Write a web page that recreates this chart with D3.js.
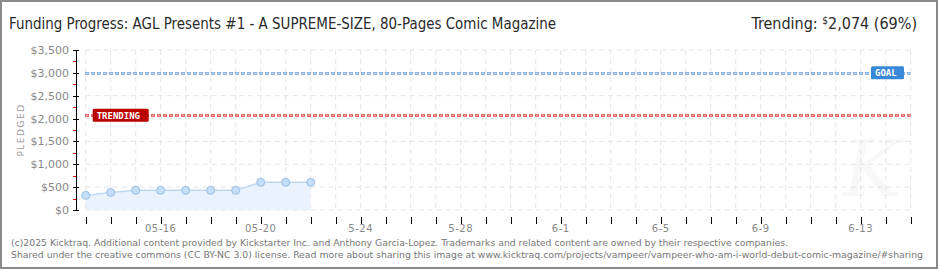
<!DOCTYPE html>
<html>
<head>
<meta charset="utf-8">
<script src="https://cdn.jsdelivr.net/npm/d3@7/dist/d3.min.js"></script>
<style>
  body { margin: 0; background: #fff; }
  svg { display: block; }
  .tick-label { font-family: "DejaVu Sans", sans-serif; font-size: 10px; fill: #888; }
  .title { font-family: "Liberation Sans Narrow", "DejaVu Sans Condensed", sans-serif; fill: #2a2a2a; }
  .footer { font-family: "DejaVu Sans Condensed", "DejaVu Sans", sans-serif; font-size: 9.5px; fill: #777; }
</style>
</head>
<body>
<div id="chart"></div>
<script>
// data
const dates = ["2025-05-13", "2025-05-14", "2025-05-15", "2025-05-16", "2025-05-17",
  "2025-05-18", "2025-05-19", "2025-05-20", "2025-05-21", "2025-05-22"];
const pledged = [320, 385, 430, 430, 430, 430, 430, 605, 605, 605];
const goal = 3000;
const trending = 2074;
const yTicks = [0, 500, 1000, 1500, 2000, 2500, 3000, 3500];
const xLabelDates = ["2025-05-16", "2025-05-20", "2025-05-24", "2025-05-28",
  "2025-06-01", "2025-06-05", "2025-06-09", "2025-06-13"];
const xLabels = ["05-16", "05-20", "5-24", "5-28", "6-1", "6-5", "6-9", "6-13"];
const dateRange = ["2025-05-13", "2025-06-15"];

const parse = d3.utcParse("%Y-%m-%d");
const points = dates.map((d, i) => ({ date: parse(d), value: pledged[i] }));

const W = 940, H = 270;
const svg = d3.select("#chart").append("svg").attr("width", W).attr("height", H);

// frame
svg.append("rect").attr("x", 1).attr("y", 1).attr("width", 936).attr("height", 267)
  .attr("fill", "#fff").attr("stroke", "#8a8a8a").attr("stroke-width", 2);

// scales
const x = d3.scaleUtc().domain(dateRange.map(parse)).range([85.7, 910.7]);
const y = d3.scaleLinear().domain([0, 3500]).range([210, 50]);
const allDays = d3.utcDay.range(parse(dateRange[0]), d3.utcDay.offset(parse(dateRange[1]), 1));

// watermark
svg.append("text").attr("x", 872).attr("y", 196).attr("text-anchor", "middle")
  .attr("font-family", "DejaVu Serif, serif").attr("font-style", "italic")
  .attr("font-size", 78).attr("fill", "#f8f8f8").text("K");

// grid
const grid = svg.append("g").attr("stroke", "#e4e4e4").attr("stroke-dasharray", "5,4");
grid.selectAll("line.v").data(allDays).join("line")
  .attr("x1", (d) => x(d)).attr("x2", (d) => x(d)).attr("y1", 50).attr("y2", 210);
grid.selectAll("line.h").data(yTicks).join("line")
  .attr("x1", 85.7).attr("x2", 910.7).attr("y1", (d) => y(d)).attr("y2", (d) => y(d));

// area + line
svg.append("path").datum(points)
  .attr("fill", "#eaf3fd")
  .attr("d", d3.area().x((d) => x(d.date)).y0(y(0)).y1((d) => y(d.value)));
svg.append("path").datum(points)
  .attr("fill", "none").attr("stroke", "#bcd8f4").attr("stroke-width", 1.5)
  .attr("d", d3.line().x((d) => x(d.date)).y((d) => y(d.value)));

// dotted reference lines
function refLine(value, dark, light) {
  const yy = Math.round(y(value)) + 0.5;
  svg.append("line").attr("x1", 85).attr("x2", 910.7).attr("y1", yy).attr("y2", yy)
    .attr("stroke", dark).attr("stroke-width", 3).attr("stroke-dasharray", "4,2");
  svg.append("line").attr("x1", 86).attr("x2", 910.7).attr("y1", yy).attr("y2", yy)
    .attr("stroke", light).attr("stroke-width", 1).attr("stroke-dasharray", "2,4");
}
refLine(goal, "#8fb4e0", "#c4d8f0");
refLine(trending, "#df6a6a", "#f0b0b0");

// labels on lines
function tag(label, x0, value, w, fill) {
  const yy = y(value);
  svg.append("rect").attr("x", x0).attr("y", yy - 6.5).attr("width", w).attr("height", 13)
    .attr("rx", 1.5).attr("fill", fill);
  svg.append("text").attr("x", x0 + 4).attr("y", yy + 3.5)
    .attr("font-family", "DejaVu Sans Mono, monospace").attr("font-size", 9)
    .attr("font-weight", "bold").attr("fill", "#fff").text(label);
}
tag("TRENDING", 92.7, trending, 56, "#bb0000");
tag("GOAL", 871, goal, 33, "#3a88d8");

// points
svg.selectAll("circle").data(points).join("circle")
  .attr("cx", (d) => x(d.date)).attr("cy", (d) => y(d.value)).attr("r", 4)
  .attr("fill", "#c4ddf8").attr("stroke", "#9bbfe4").attr("stroke-width", 1);

// y axis
const yAxis = svg.append("g");
yAxis.append("line").attr("x1", 76.5).attr("x2", 76.5).attr("y1", 50).attr("y2", 210)
  .attr("stroke", "#000");
yAxis.selectAll("line.maj").data(yTicks).join("line")
  .attr("x1", 73).attr("x2", 79).attr("y1", (d) => Math.round(y(d)) + 0.5).attr("y2", (d) => Math.round(y(d)) + 0.5)
  .attr("stroke", "#000");
yAxis.selectAll("line.min").data(yTicks.slice(0, -1).map((v) => v + 250)).join("line")
  .attr("x1", 73).attr("x2", 76).attr("y1", (d) => Math.round(y(d)) + 0.5).attr("y2", (d) => Math.round(y(d)) + 0.5)
  .attr("stroke", "#e00000");
yAxis.selectAll("text").data(yTicks).join("text")
  .attr("class", "tick-label").style("font-size", "11px")
  .attr("x", 69).attr("y", (d) => y(d) + 4).attr("text-anchor", "end")
  .text((d) => d3.format("$,")(d));

svg.append("text").attr("transform", "translate(24,130) rotate(-90)")
  .attr("text-anchor", "middle").attr("font-family", "DejaVu Sans, sans-serif")
  .attr("font-size", 9).attr("letter-spacing", 1.5).attr("fill", "#999").text("PLEDGED");

// x axis
const xAxis = svg.append("g");
xAxis.append("line").attr("x1", 85.7).attr("x2", 910.7).attr("y1", 220.5).attr("y2", 220.5)
  .attr("stroke", "#000");
xAxis.selectAll("line").data(allDays, (d) => d).join("line")
  .attr("x1", (d) => Math.round(x(d)) + 0.5).attr("x2", (d) => Math.round(x(d)) + 0.5)
  .attr("y1", 217).attr("y2", 224).attr("stroke", "#000");
xAxis.selectAll("text").data(xLabelDates).join("text")
  .attr("class", "tick-label").attr("x", (d) => x(parse(d))).attr("y", 232)
  .attr("text-anchor", "middle").attr("letter-spacing", 0.5)
  .text((d, i) => xLabels[i]);

// titles
svg.append("text").attr("class", "title").attr("x", 9).attr("y", 29)
  .attr("font-size", 16).attr("textLength", 547).attr("lengthAdjust", "spacingAndGlyphs")
  .text("Funding Progress: AGL Presents #1 - A SUPREME-SIZE, 80-Pages Comic Magazine");

const tr = svg.append("text").attr("class", "title").attr("x", 917).attr("y", 29)
  .attr("text-anchor", "end").attr("font-size", 16);
tr.append("tspan").text("Trending: ");
tr.append("tspan").attr("font-size", 10).attr("dy", -5).text("$");
tr.append("tspan").attr("dy", 5).text("2,074 (69%)");

// footer
svg.append("text").attr("class", "footer").attr("x", 11).attr("y", 246)
  .attr("textLength", 777).attr("lengthAdjust", "spacingAndGlyphs")
  .text("(c)2025 Kicktraq. Additional content provided by Kickstarter Inc. and Anthony Garcia-Lopez. Trademarks and related content are owned by their respective companies.");
svg.append("text").attr("class", "footer").attr("x", 11).attr("y", 258)
  .attr("textLength", 912).attr("lengthAdjust", "spacingAndGlyphs")
  .text("Shared under the creative commons (CC BY-NC 3.0) license. Read more about sharing this image at www.kicktraq.com/projects/vampeer/vampeer-who-am-i-world-debut-comic-magazine/#sharing");
</script>
</body>
</html>
